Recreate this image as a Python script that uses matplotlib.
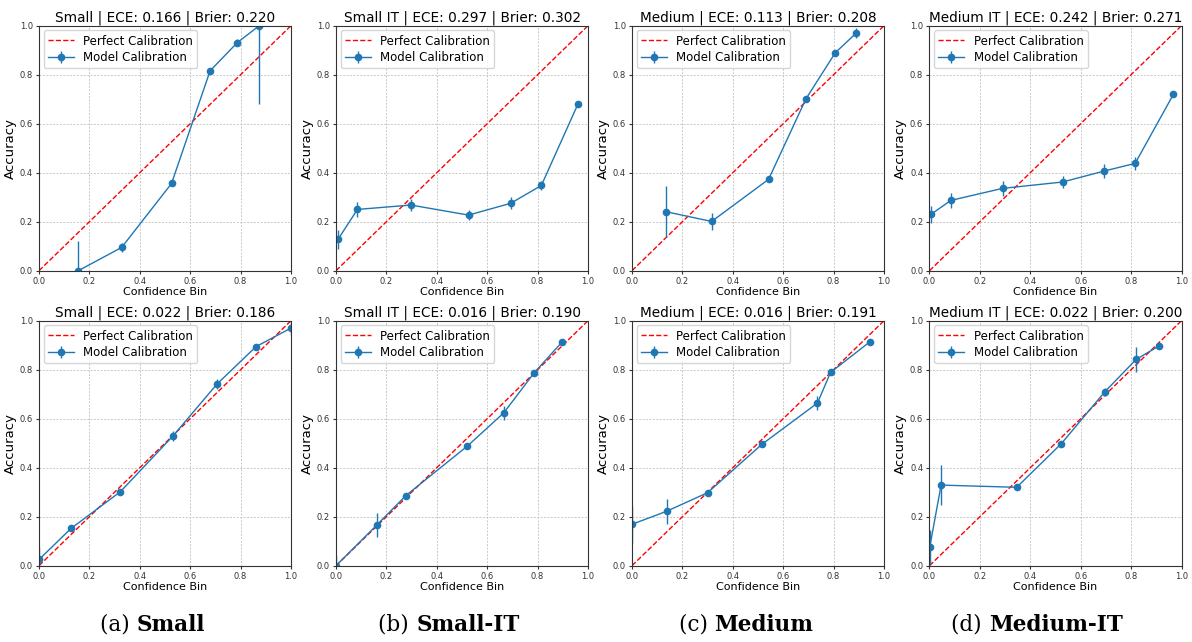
import numpy as np
import matplotlib.pyplot as plt

# ---- datos ----
titulos = [
    "Small | ECE: 0.166 | Brier: 0.220",
    "Small IT | ECE: 0.297 | Brier: 0.302",
    "Medium | ECE: 0.113 | Brier: 0.208",
    "Medium IT | ECE: 0.242 | Brier: 0.271",
    "Small | ECE: 0.022 | Brier: 0.186",
    "Small IT | ECE: 0.016 | Brier: 0.190",
    "Medium | ECE: 0.016 | Brier: 0.191",
    "Medium IT | ECE: 0.022 | Brier: 0.200",
]

conf = [
    [0.156, 0.328, 0.526, 0.679, 0.787, 0.874],
    [0.008, 0.085, 0.297, 0.526, 0.693, 0.815, 0.960],
    [0.134, 0.316, 0.542, 0.690, 0.807, 0.890],
    [0.007, 0.085, 0.290, 0.528, 0.694, 0.816, 0.968],
    [0.001, 0.127, 0.323, 0.533, 0.706, 0.861, 1.000],
    [0.000, 0.162, 0.277, 0.521, 0.665, 0.787, 0.898],
    [0.000, 0.137, 0.300, 0.515, 0.736, 0.788, 0.944],
    [0.001, 0.046, 0.346, 0.523, 0.695, 0.820, 0.911],
]

acc = [
    [0.000, 0.095, 0.356, 0.816, 0.931, 1.000],
    [0.128, 0.250, 0.268, 0.227, 0.275, 0.348, 0.680],
    [0.241, 0.201, 0.373, 0.701, 0.890, 0.970],
    [0.231, 0.287, 0.336, 0.362, 0.407, 0.438, 0.720],
    [0.026, 0.152, 0.302, 0.531, 0.741, 0.894, 0.970],
    [0.000, 0.166, 0.286, 0.488, 0.623, 0.788, 0.914],
    [0.169, 0.222, 0.298, 0.495, 0.664, 0.789, 0.914],
    [0.076, 0.329, 0.320, 0.498, 0.709, 0.842, 0.897],
]

err = [
    [0.120, 0.020, 0.008, 0.010, 0.015, 0.320],
    [0.040, 0.030, 0.025, 0.020, 0.025, 0.020, 0.006],
    [0.105, 0.035, 0.008, 0.008, 0.008, 0.020],
    [0.035, 0.030, 0.030, 0.025, 0.030, 0.025, 0.006],
    [0.050, 0.010, 0.008, 0.020, 0.020, 0.010, 0.030],
    [0.040, 0.050, 0.010, 0.010, 0.030, 0.010, 0.006],
    [0.075, 0.050, 0.008, 0.010, 0.030, 0.008, 0.006],
    [0.070, 0.080, 0.010, 0.008, 0.015, 0.050, 0.006],
]

etiquetas = ["(a) ", "(b) ", "(c) ", "(d) "]
nombres = ["Small", "Small-IT", "Medium", "Medium-IT"]

# ---- figura ----
fig = plt.figure(figsize=(11.92, 6.42), dpi=100)

izq = [39, 336, 632, 929.5]
abajo = [270.7, 565.7]
ancho, alto = 252, 245

for k in range(8):
    fila, col = divmod(k, 4)
    ax = fig.add_axes([izq[col] / 1192, 1 - abajo[fila] / 642, ancho / 1192, alto / 642])
    ax.plot([0, 1], [0, 1], "r--", linewidth=1, label="Perfect Calibration")
    ax.errorbar(conf[k], acc[k], yerr=err[k], fmt="o-", color="#1f77b4",
                markersize=4.5, linewidth=1, elinewidth=1, capsize=0,
                label="Model Calibration")
    ax.set_xlim(0, 1)
    ax.set_ylim(0, 1)
    ax.set_title(titulos[k], fontsize=9.8, pad=3)
    ax.set_xlabel("Confidence Bin", fontsize=8, labelpad=1)
    ax.set_ylabel("Accuracy", fontsize=9.5, labelpad=2)
    ax.tick_params(labelsize=6, length=2.5, pad=2, colors="#333333")
    ax.grid(True, linestyle=(0, (2, 1.5)), linewidth=0.7, color="#c8c8c8")
    ax.legend(loc="upper left", fontsize=8.5, handlelength=2.2,
              borderaxespad=0.4, borderpad=0.35, labelspacing=0.3)
    for s in ax.spines.values():
        s.set_color("#333333")

# ---- leyendas de cada columna (normal + negrita) ----
fig.canvas.draw()
r = fig.canvas.get_renderer()
centros = [153, 449, 746, 1037]
for c in range(4):
    t1 = fig.text(0, 0, etiquetas[c], fontsize=15.5, family="DejaVu Serif")
    t2 = fig.text(0, 0, nombres[c], fontsize=15.5, family="DejaVu Serif", fontweight="bold")
    w1 = t1.get_window_extent(r).width
    w2 = t2.get_window_extent(r).width
    x0 = centros[c] - (w1 + w2) / 2
    t1.set_position((x0 / 1192, 1 - 625 / 642))
    t2.set_position(((x0 + w1) / 1192, 1 - 625 / 642))
    t1.set_va("center")
    t2.set_va("center")

fig.savefig("out.png", dpi=100)
